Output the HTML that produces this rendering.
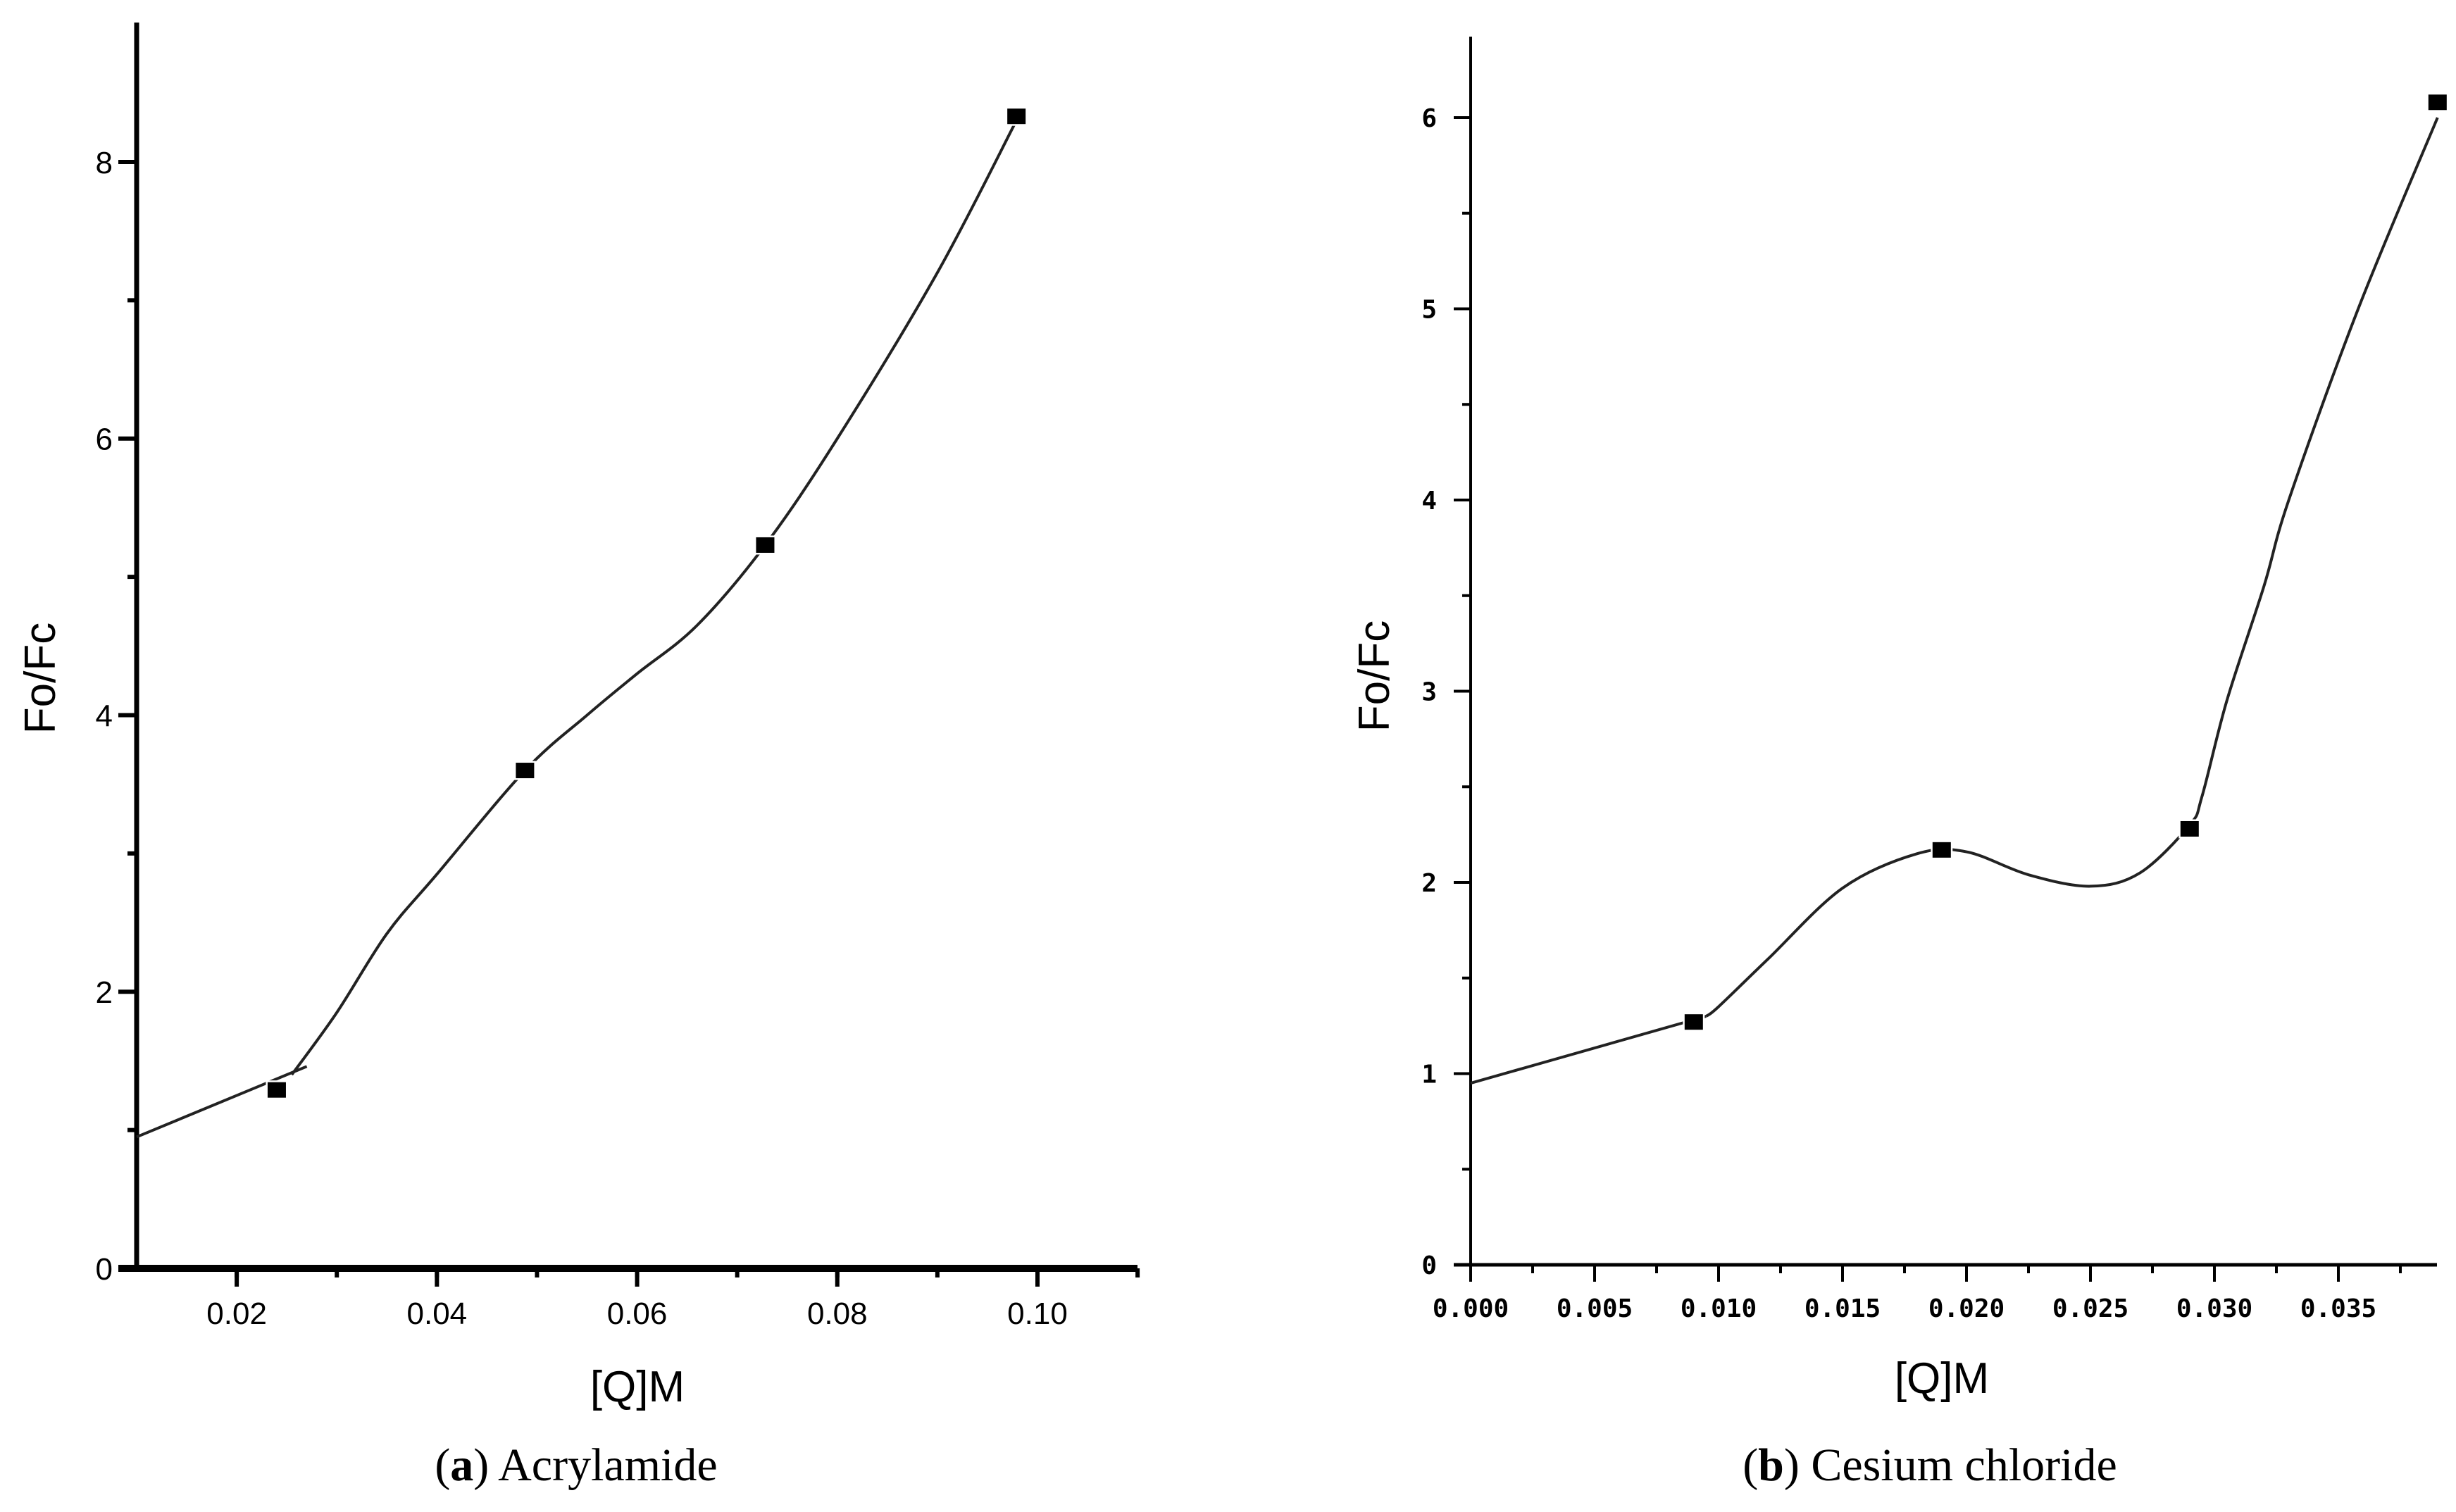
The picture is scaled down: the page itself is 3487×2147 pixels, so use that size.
<!DOCTYPE html>
<html><head><meta charset="utf-8"><style>
html,body{margin:0;padding:0;background:#fff;}
svg{display:block;}
</style></head><body>
<svg id="fig" width="3487" height="2147" viewBox="0 0 3487 2147" xmlns="http://www.w3.org/2000/svg"></svg>
<script>
// Panel (a) Acrylamide
const aPointsX = [0.024, 0.0488, 0.0728, 0.0979];
const aPointsY = [1.29, 3.6, 5.23, 8.33];
const aLineX = [0.010, 0.027];
const aLineY = [0.95, 1.46];
const aCurveX = [0.0255, 0.030, 0.035, 0.040, 0.0488, 0.055, 0.060, 0.066, 0.0728, 0.080, 0.090, 0.0979];
const aCurveY = [1.40, 1.85, 2.42, 2.85, 3.6, 4.0, 4.3, 4.65, 5.23, 6.0, 7.2, 8.3];
const aXTicks = [0.02, 0.04, 0.06, 0.08, 0.10];
const aXTickLabels = ["0.02", "0.04", "0.06", "0.08", "0.10"];
const aYTicks = [0, 2, 4, 6, 8];
const aYTickLabels = ["0", "2", "4", "6", "8"];
// Panel (b) Cesium chloride
const bPointsX = [0.009, 0.019, 0.029, 0.039];
const bPointsY = [1.27, 2.17, 2.28, 6.08];
const bLineX = [0.000, 0.0095];
const bLineY = [0.95, 1.30];
const bCurveX = [0.0095, 0.010, 0.012, 0.015, 0.018, 0.020, 0.0225, 0.025, 0.027, 0.029, 0.0295, 0.0305, 0.032, 0.033, 0.0358, 0.039];
const bCurveY = [1.30, 1.35, 1.6, 1.97, 2.15, 2.16, 2.04, 1.98, 2.05, 2.3, 2.45, 2.95, 3.55, 4.0, 5.0, 6.0];
const bXTicks = [0.000, 0.005, 0.010, 0.015, 0.020, 0.025, 0.030, 0.035];
const bXTickLabels = ["0.000", "0.005", "0.010", "0.015", "0.020", "0.025", "0.030", "0.035"];
const bYTicks = [0, 1, 2, 3, 4, 5, 6];
const bYTickLabels = ["0", "1", "2", "3", "4", "5", "6"];

const NS = "http://www.w3.org/2000/svg";
const svg = document.getElementById("fig");
function mk(tag, attrs, parent){
  const e = document.createElementNS(NS, tag);
  for (const k in attrs) e.setAttribute(k, attrs[k]);
  (parent||svg).appendChild(e);
  return e;
}
function catmull(pts){
  let d = "M" + pts[0][0] + "," + pts[0][1];
  for (let i=0;i<pts.length-1;i++){
    const p0 = pts[Math.max(0,i-1)], p1 = pts[i], p2 = pts[i+1], p3 = pts[Math.min(pts.length-1,i+2)];
    const c1x = p1[0]+(p2[0]-p0[0])/6, c1y = p1[1]+(p2[1]-p0[1])/6;
    const c2x = p2[0]-(p3[0]-p1[0])/6, c2y = p2[1]-(p3[1]-p1[1])/6;
    d += " C"+c1x+","+c1y+" "+c2x+","+c2y+" "+p2[0]+","+p2[1];
  }
  return d;
}

function panel(cfg){
  const g = mk("g", {});
  
  
  const sx = v => cfg.x0 + (v - cfg.xmin) / (cfg.xmax - cfg.xmin) * (cfg.x1 - cfg.x0);
  const sy = v => cfg.y0 - (v - cfg.ymin) / (cfg.ymax - cfg.ymin) * (cfg.y0 - cfg.y1);
  const ya = mk("line", {x1:cfg.x0, y1:cfg.yTop, x2:cfg.x0, y2:cfg.y0+cfg.xw/2, stroke:"#000", "stroke-width":cfg.yw}, g);
  
  
  const xa = mk("line", {x1:cfg.x0-cfg.tickLen, y1:cfg.y0, x2:cfg.xEnd, y2:cfg.y0, stroke:"#000", "stroke-width":cfg.xw}, g);
  
  
  for (let i=0;i<cfg.xTicks.length;i++){
    const x = sx(cfg.xTicks[i]);
    const t = mk("line", {x1:x, y1:cfg.y0, x2:x, y2:cfg.y0+cfg.tickLen, stroke:"#000", "stroke-width":cfg.tw}, g);
    
    
    const lb = mk("text", {x:x, y:cfg.xLabelY, "text-anchor":"middle", "font-family":cfg.tickFont, "font-size":cfg.tickSize, "font-weight":cfg.tickWeight, fill:"#000"}, g);
    lb.textContent = cfg.xTickLabels[i];
    
    
  }
  for (let v = cfg.xmin + cfg.xMinorStep; v < cfg.xEndVal; v += cfg.xMinorStep){
    const x = sx(v);
    const t = mk("line", {x1:x, y1:cfg.y0, x2:x, y2:cfg.y0+cfg.tickLen*0.5, stroke:"#000", "stroke-width":cfg.tw}, g);
    
    
  }
  for (let i=0;i<cfg.yTicks.length;i++){
    const y = sy(cfg.yTicks[i]);
    const t = mk("line", {x1:cfg.x0-cfg.tickLen, y1:y, x2:cfg.x0, y2:y, stroke:"#000", "stroke-width":cfg.tw}, g);
    
    
    const lb = mk("text", {x:cfg.yLabelX, y:y+cfg.tickSize*0.36, "text-anchor":"end", "font-family":cfg.tickFont, "font-size":cfg.tickSize, "font-weight":cfg.tickWeight, fill:"#000"}, g);
    lb.textContent = cfg.yTickLabels[i];
    
    
  }
  for (let v = cfg.ymin + cfg.yMinorStep; v < cfg.ymax; v += 2*cfg.yMinorStep){
    const y = sy(v);
    const t = mk("line", {x1:cfg.x0-cfg.tickLen*0.5, y1:y, x2:cfg.x0, y2:y, stroke:"#000", "stroke-width":cfg.tw}, g);
    
    
  }
  const lp = cfg.lineX.map((v,i)=>[sx(v), sy(cfg.lineY[i])]);
  const l = mk("path", {d:"M"+lp.map(p=>p.join(",")).join(" L"), fill:"none", stroke:"#222", "stroke-width":4}, g);
  
  
  const pts = cfg.curveX.map((v,i)=>[sx(v), sy(cfg.curveY[i])]);
  const c = mk("path", {d:catmull(pts), fill:"none", stroke:"#222", "stroke-width":4}, g);
  
  
  for (let i=0;i<cfg.px.length;i++){
    const m = mk("rect", {x:sx(cfg.px[i])-13, y:sy(cfg.py[i])-11, width:26, height:22, fill:"#000", stroke:"#fff", "stroke-width":5, "paint-order":"stroke"}, g);
    
    
  }
  const xt = mk("text", {x:cfg.xTitleX, y:cfg.xTitleY, "text-anchor":"middle", "font-family":"Liberation Sans, sans-serif", "font-size":62, fill:"#000"}, g);
  xt.textContent = "[Q]M";
  
  
  const yt = mk("text", {x:0, y:0, transform:"translate("+cfg.yTitleX+","+cfg.yTitleY+") rotate(-90)", "text-anchor":"middle", "font-family":"Liberation Sans, sans-serif", "font-size":62, fill:"#000"}, g);
  yt.textContent = cfg.yTitle;
  
  
  const cap = mk("text", {x:cfg.capX, y:2102, "text-anchor":"middle", "font-family":"Liberation Serif, serif", "font-size":66, fill:"#000"}, g);
  cap.innerHTML = cfg.caption;
  
  
}

panel({name:"panel-a-acrylamide", x0:194, x1:1473, xmin:0.01, xmax:0.10, y0:1801, y1:230, ymin:0, ymax:8,
  yTop:32, xEnd:1615, xEndVal:0.1115, xw:10, yw:7, tw:6, tickLen:26, xMinorStep:0.01, yMinorStep:1,
  xTicks:aXTicks, xTickLabels:aXTickLabels, yTicks:aYTicks, yTickLabels:aYTickLabels,
  tickFont:"Liberation Sans, sans-serif", tickSize:44, tickWeight:"normal", xLabelY:1880, yLabelX:160,
  lineX:aLineX, lineY:aLineY, curveX:aCurveX, curveY:aCurveY, px:aPointsX, py:aPointsY,
  xTitleX:905, xTitleY:1990, yTitleX:78, yTitleY:963, yTitle:"Fo/Fc",
  capX:818, caption:'(<tspan font-weight="bold">a</tspan>) Acrylamide'});

panel({name:"panel-b-cesium-chloride", x0:2088, x1:3320, xmin:0, xmax:0.035, y0:1796, y1:167, ymin:0, ymax:6,
  yTop:52, xEnd:3460, xEndVal:0.0394, xw:5, yw:4, tw:4, tickLen:24, xMinorStep:0.0025, yMinorStep:0.5,
  xTicks:bXTicks, xTickLabels:bXTickLabels, yTicks:bYTicks, yTickLabels:bYTickLabels,
  tickFont:"DejaVu Sans Mono, monospace", tickSize:36, tickWeight:"bold", xLabelY:1870, yLabelX:2040,
  lineX:bLineX, lineY:bLineY, curveX:bCurveX, curveY:bCurveY, px:bPointsX, py:bPointsY,
  xTitleX:2757, xTitleY:1978, yTitleX:1972, yTitleY:960, yTitle:"Fo/Fc",
  capX:2740, caption:'(<tspan font-weight="bold">b</tspan>) Cesium chloride'});
</script>
</body></html>
